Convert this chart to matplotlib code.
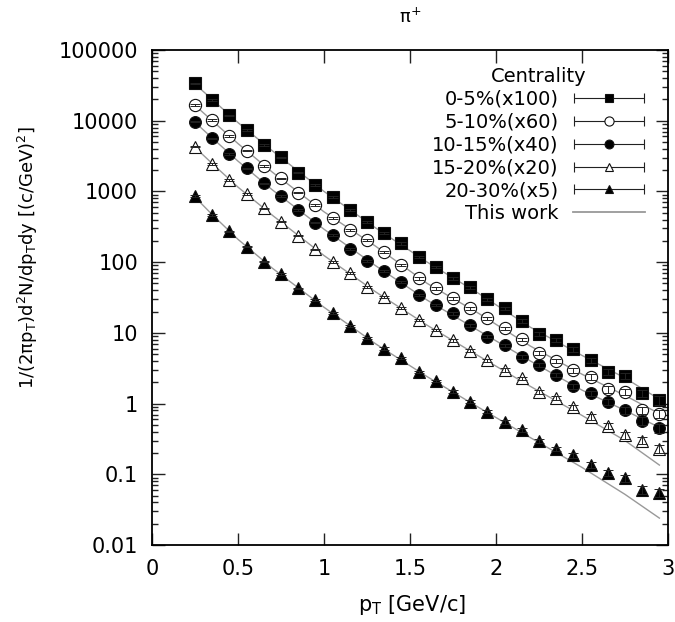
import numpy as np
import matplotlib.pyplot as plt
from matplotlib.container import ErrorbarContainer
from matplotlib.legend_handler import HandlerErrorbar
from matplotlib.lines import Line2D
from matplotlib.ticker import FixedLocator, FuncFormatter, LogLocator, NullFormatter

# pT bins of the measured points
pt = [0.25, 0.35, 0.45, 0.55, 0.65, 0.75, 0.85, 0.95, 1.05, 1.15,
      1.25, 1.35, 1.45, 1.55, 1.65, 1.75, 1.85, 1.95, 2.05, 2.15,
      2.25, 2.35, 2.45, 2.55, 2.65, 2.75, 2.85, 2.95]

# measured spectra (already scaled)
c0_5 = [33800, 19600, 12000, 7400, 4530, 3030, 1840, 1230, 826, 546,
        366, 261, 184, 119, 86, 59, 44, 29.8, 22.2, 14.8,
        9.6, 7.9, 5.9, 4.1, 2.82, 2.47, 1.39, 1.12]
c5_10 = [16700, 10200, 6080, 3770, 2290, 1530, 959, 643, 417, 285,
         205, 139, 91, 59, 42.6, 30.7, 22.2, 16.0, 11.6, 8.1,
         5.2, 4.0, 2.98, 2.39, 1.59, 1.47, 0.81, 0.72]
c10_15 = [9680, 5640, 3380, 2120, 1300, 861, 546, 361, 241, 152,
          105, 75.5, 52.8, 34.3, 24.7, 18.9, 12.9, 8.8, 6.7, 4.59,
          3.5, 2.53, 1.77, 1.39, 1.06, 0.81, 0.57, 0.45]
c15_20 = [4290, 2440, 1450, 918, 577, 372, 237, 152, 101, 70.8,
          44.9, 32.4, 22.2, 15.2, 11.0, 7.9, 5.6, 4.12, 2.98, 2.27,
          1.47, 1.19, 0.88, 0.65, 0.48, 0.36, 0.30, 0.23]
c20_30 = [861, 463, 272, 165, 101, 67.9, 42.7, 29.1, 18.9, 12.6,
          8.4, 6.0, 4.36, 2.82, 2.10, 1.47, 1.06, 0.77, 0.55, 0.42,
          0.30, 0.23, 0.187, 0.135, 0.105, 0.0875, 0.060, 0.055]

# relative errors of the points
rel_err = [0.02, 0.02, 0.02, 0.02, 0.02, 0.02, 0.025, 0.025, 0.03, 0.03,
           0.03, 0.035, 0.035, 0.04, 0.04, 0.045, 0.05, 0.05, 0.055, 0.06,
           0.065, 0.07, 0.08, 0.09, 0.10, 0.11, 0.12, 0.14]

# model curves ("This work")
pt_model = [0.25, 0.35, 0.5, 0.7, 1.0, 1.3, 1.6, 1.9, 2.2, 2.5, 2.75, 2.95]
m0_5 = [33000, 20000, 9400, 3750, 1000, 305, 100, 36, 12, 4.8, 2.3, 1.15]
m5_10 = [16500, 10000, 4750, 1870, 515, 168, 50, 18.8, 6.5, 2.6, 1.3, 0.72]
m10_15 = [9500, 5700, 2680, 1050, 292, 89, 29, 10.7, 4.0, 1.55, 0.8, 0.46]
m15_20 = [4200, 2480, 1150, 460, 124, 38, 12.8, 4.7, 1.75, 0.68, 0.30, 0.135]
m20_30 = [830, 470, 210, 82, 23, 7.0, 2.4, 0.88, 0.33, 0.125, 0.052, 0.024]

labels = ['0-5%(x100)', '5-10%(x60)', '10-15%(x40)', '15-20%(x20)', '20-30%(x5)']

series = [
    (c0_5, m0_5, 's', 'k', 8.5),
    (c5_10, m5_10, 'o', 'white', 8.8),
    (c10_15, m10_15, 'o', 'k', 8.5),
    (c15_20, m15_20, '^', 'white', 8.0),
    (c20_30, m20_30, '^', 'k', 8.0),
]

fig = plt.figure(figsize=(6.75, 6.22), dpi=100)
ax = fig.add_axes([152/675, 1 - 545/622, 516/675, 495/622])

handles = []
for (y, ym, mk, fc, ms), lab in zip(series, labels):
    y = np.array(y)
    ax.plot(pt_model, ym, color='#999999', lw=1.0, zorder=1)
    ax.errorbar(pt, y, yerr=y*np.array(rel_err), fmt='none', ecolor='#222222',
                elinewidth=0.7, capsize=3.5, capthick=0.7, zorder=4)
    ax.plot(pt, y, ls='none', marker=mk, ms=ms, mfc=fc, mec='#111111',
            mew=0.8, zorder=3)
    h = ax.errorbar([np.nan], [np.nan], xerr=[1], fmt=mk, ms=ms*0.75, mfc=fc,
                    mec='#111111', mew=0.8, ecolor='#222222', elinewidth=0.8,
                    capsize=3.5, capthick=0.8)
    handles.append(h)

handles.append(Line2D([], [], color='#999999', lw=1.3))

ax.set_yscale('log')
ax.set_xlim(0, 3)
ax.set_ylim(0.01, 100000)

ax.xaxis.set_major_locator(FixedLocator([0, 0.5, 1, 1.5, 2, 2.5, 3]))
ax.xaxis.set_major_formatter(FuncFormatter(lambda v, p: f'{v:g}'))
ax.yaxis.set_major_locator(LogLocator(base=10, numticks=20))
ax.yaxis.set_minor_locator(LogLocator(base=10, subs=np.arange(2, 10), numticks=20))
ax.yaxis.set_major_formatter(FuncFormatter(lambda v, p: f'{v:.10g}'))
ax.yaxis.set_minor_formatter(NullFormatter())

ax.tick_params(which='both', direction='in', top=True, right=True,
               labelsize=15, width=1.0, color='#222222')
ax.tick_params(which='major', length=9, pad=10)
ax.tick_params(which='minor', length=4.5)
for s in ax.spines.values():
    s.set_linewidth(1.3)

ax.set_xlabel(r'p$_{\rm T}$ [GeV/c]', fontsize=15, va='center')
ax.xaxis.set_label_coords(0.504, -0.121)
ax.set_ylabel(r'1/(2πp$_{\rm T}$)d$^2$N/dp$_{\rm T}$dy [(c/GeV)$^2$]',
              fontsize=13, va='center')
ax.yaxis.set_label_coords(-0.24, 0.58)

fig.text(410/675, 1 - 17/622, r'π$^{+}$', ha='center', va='center', fontsize=13)

leg = ax.legend(handles, labels + ['This work'], loc='upper right',
                bbox_to_anchor=(0.955, 0.966), frameon=False, markerfirst=False,
                title='Centrality', fontsize=14, title_fontsize=14,
                handlelength=3.7, handletextpad=0.75, labelspacing=0.2,
                borderpad=0, borderaxespad=0,
                handler_map={ErrorbarContainer: HandlerErrorbar(xerr_size=1.8)})

fig.savefig('out.png', dpi=100)
